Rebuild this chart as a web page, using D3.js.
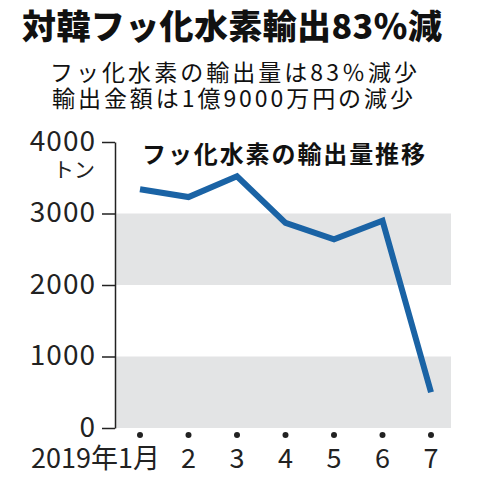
<!DOCTYPE html>
<html><head><meta charset="utf-8">
<script src="https://cdn.jsdelivr.net/npm/d3@7"></script>
<style>body{margin:0;background:#fff;}svg{display:block;}</style>
</head><body>
<script>
const months = ["2019年1月","2","3","4","5","6","7"];
const values = [3340, 3230, 3520, 2870, 2640, 2900, 500];
const yTicks = [0, 1000, 2000, 3000, 4000];
const bands = [[0, 1000], [2000, 3000]];
const title = "対韓フッ化水素輸出83％減";
const subLines = ["フッ化水素の輸出量は83％減少", "輸出金額は1億9000万円の減少"];
const chartTitle = "フッ化水素の輸出量推移";
const unit = "トン";

const W = 477, H = 481;
const F = "'Noto Sans CJK JP', 'Noto Sans', sans-serif";
const svg = d3.select("body").append("svg").attr("width", W).attr("height", H);
svg.append("rect").attr("width", W).attr("height", H).attr("fill", "#fff");

const x = d3.scalePoint().domain(months).range([140, 431]);
const y = d3.scaleLinear().domain([0, 4000]).range([428, 142]);
const xL = 115, xR = 451;

// bands
svg.selectAll("rect.band").data(bands).enter().append("rect")
  .attr("x", xL).attr("width", xR - xL)
  .attr("y", d => y(d[1])).attr("height", d => y(d[0]) - y(d[1]))
  .attr("fill", "#e3e4e5");

// y axis
const ya = svg.append("g").attr("transform", `translate(${xL},0)`)
  .call(d3.axisLeft(y).tickValues(yTicks).tickSize(13).tickSizeOuter(0).tickPadding(6).tickFormat(d3.format("d")));
ya.select(".domain").attr("stroke", "#222").attr("stroke-width", 1.5);
ya.selectAll(".tick line").attr("stroke", "#222").attr("stroke-width", 1.5);
ya.selectAll(".tick text").attr("font-family", F).attr("font-size", 28).attr("fill", "#222")
  .attr("letter-spacing", 1).attr("dy", "0.3em");

svg.append("text").attr("x", 95).attr("y", 168).attr("text-anchor", "end")
  .attr("dominant-baseline", "central").attr("font-family", F).attr("font-size", 21).attr("fill", "#222").text(unit);

// x dots & labels
svg.selectAll("circle.dot").data(months).enter().append("circle")
  .attr("cx", d => x(d)).attr("cy", 435).attr("r", 3).attr("fill", "#222");
svg.selectAll("text.xl").data(months).enter().append("text")
  .attr("x", (d, i) => i === 0 ? x(d) + 20 : x(d))
  .attr("y", 456).attr("dominant-baseline", "central")
  .attr("text-anchor", (d, i) => i === 0 ? "end" : "middle")
  .attr("font-family", F).attr("font-size", 27).attr("fill", "#222").text(d => d);

// line
const line = d3.line().x((d, i) => x(months[i])).y(d => y(d));
svg.append("path").datum(values).attr("d", line).attr("fill", "none")
  .attr("stroke", "#1a63a5").attr("stroke-width", 6).attr("stroke-linejoin", "miter");

// chart title
svg.append("text").attr("x", 142).attr("y", 152).attr("dominant-baseline", "central")
  .attr("font-family", F).attr("font-weight", 700).attr("font-size", 24).attr("fill", "#111")
  .attr("textLength", 283).attr("lengthAdjust", "spacing").text(chartTitle);

// titles
svg.append("text").attr("x", 22).attr("y", 24).attr("dominant-baseline", "central")
  .attr("font-family", F).attr("font-weight", 900).attr("font-size", 34).attr("fill", "#111")
  .attr("textLength", 420).attr("lengthAdjust", "spacing").text(title);
svg.selectAll("text.sub").data(subLines).enter().append("text")
  .attr("x", (d, i) => i === 0 ? 50 : 52).attr("y", (d, i) => i === 0 ? 71 : 97)
  .attr("dominant-baseline", "central")
  .attr("font-family", F).attr("font-size", 23).attr("fill", "#111")
  .attr("textLength", (d, i) => i === 0 ? 367 : 361).attr("lengthAdjust", "spacing").text(d => d);
</script>
</body></html>
